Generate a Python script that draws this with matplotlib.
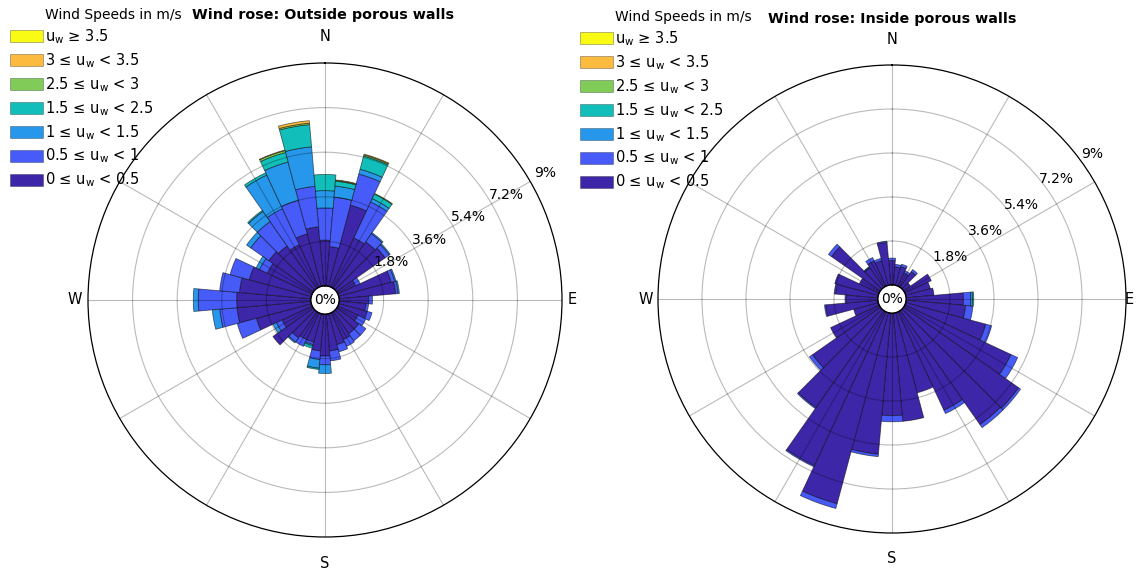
import numpy as np
import matplotlib.pyplot as plt
from matplotlib.patches import Patch

# direction sectors (compass degrees, 10 deg wide)
dirs = np.arange(0, 360, 10)

# speed bins, lowest first
bin_labels = ["0 \u2264 u$_\\mathregular{w}$ < 0.5",
              "0.5 \u2264 u$_\\mathregular{w}$ < 1",
              "1 \u2264 u$_\\mathregular{w}$ < 1.5",
              "1.5 \u2264 u$_\\mathregular{w}$ < 2.5",
              "2.5 \u2264 u$_\\mathregular{w}$ < 3",
              "3 \u2264 u$_\\mathregular{w}$ < 3.5",
              "u$_\\mathregular{w}$ \u2265 3.5"]
# parula(7)
bin_colors = [(0.2422, 0.1504, 0.6603), (0.2780, 0.3556, 0.9777),
              (0.1540, 0.5902, 0.9218), (0.0704, 0.7457, 0.7258),
              (0.5044, 0.7993, 0.3480), (0.9871, 0.7348, 0.2438),
              (0.9769, 0.9839, 0.0805)]

# outside porous walls, frequency in % per sector and bin
out_b0 = [1.85, 1.6, 3.4, 2.2, 2.3, 2.4, 0.8, 2.2, 2.3, 1.2, 1.1, 1.2,
          0.9, 1.1, 1.1, 1.2, 1.3, 1.5, 1.7, 1.5, 1.2, 1.2, 1.3, 2.0,
          1.35, 2.3, 3.0, 3.0, 2.9, 2.6, 2.0, 2.2, 2.1, 1.9, 2.2, 2.4]
out_b1 = [1.3, 2.0, 1.3, 1.6, 0.4, 0.2, 0.2, 0.15, 0.1, 0.15, 0.1, 0.2,
          0.35, 0.35, 0.35, 0.3, 0.3, 0.4, 0.35, 0.35, 0.1, 0.3, 0.2, 0.0,
          0.25, 0.8, 0.7, 1.55, 0.8, 0.8, 0.35, 0.9, 1.2, 1.6, 1.4, 1.64]
out_b2 = [0.7, 0.45, 0.2, 0.15, 0.05, 0.05, 0.0, 0.05, 0.05, 0.0, 0.0, 0.0,
          0.0, 0.0, 0.0, 0.0, 0.0, 0.0, 0.35, 0.35, 0.05, 0.0, 0.05, 0.0,
          0.15, 0.0, 0.3, 0.2, 0.0, 0.0, 0.15, 0.2, 0.5, 1.5, 1.6, 1.6]
out_b3 = [0.65, 0.2, 0.55, 0.2, 0.0, 0.0, 0.0, 0.0, 0.0, 0.0, 0.0, 0.0,
          0.0, 0.0, 0.0, 0.0, 0.0, 0.0, 0.0, 0.05, 0.1, 0.0, 0.0, 0.0,
          0.0, 0.0, 0.0, 0.0, 0.0, 0.0, 0.0, 0.0, 0.05, 0.1, 0.4, 0.9]
out_b4 = [0.0, 0.03, 0.05, 0.03, 0.0, 0.0, 0.0, 0.0, 0.0, 0.0, 0.0, 0.0,
          0.0, 0.0, 0.0, 0.0, 0.0, 0.0, 0.0, 0.0, 0.0, 0.0, 0.0, 0.0,
          0.0, 0.0, 0.0, 0.0, 0.0, 0.0, 0.0, 0.0, 0.0, 0.0, 0.08, 0.06]
out_b5 = [0.0, 0.02, 0.03, 0.0, 0.0, 0.0, 0.0, 0.0, 0.0, 0.0, 0.0, 0.0,
          0.0, 0.0, 0.0, 0.0, 0.0, 0.0, 0.0, 0.0, 0.0, 0.0, 0.0, 0.0,
          0.0, 0.0, 0.0, 0.0, 0.0, 0.0, 0.0, 0.0, 0.0, 0.0, 0.02, 0.1]
out_b6 = [0.0] * 36

# inside porous walls
in_b0 = [1.0, 0.75, 0.8, 0.6, 0.8, 0.35, 1.2, 1.05, 1.15, 2.35, 2.45, 3.4,
         4.8, 5.75, 5.7, 4.45, 3.4, 4.45, 4.2, 5.8, 8.1, 6.95, 4.85, 3.4,
         2.2, 1.05, 2.15, 1.3, 1.75, 1.85, 0.9, 2.45, 1.0, 1.15, 1.05, 1.75]
in_b1 = [0.1, 0.1, 0.1, 0.1, 0.1, 0.0, 0.0, 0.0, 0.0, 0.3, 0.3, 0.25,
         0.3, 0.1, 0.15, 0.15, 0.0, 0.0, 0.25, 0.1, 0.2, 0.05, 0.05, 0.15,
         0.0, 0.0, 0.05, 0.05, 0.05, 0.0, 0.0, 0.15, 0.02, 0.15, 0.1, 0.05]
in_b2 = [0.0] * 9 + [0.07] + [0.0] * 22 + [0.03] + [0.0] * 3
in_b3 = [0.0] * 9 + [0.05] + [0.0] * 26
in_b4 = [0.0] * 36
in_b5 = [0.0] * 36
in_b6 = [0.0] * 36

ring_ticks = [1.8, 3.6, 5.4, 7.2, 9]
compass = ["N", "E", "S", "W"]


def rose(ax, bins, label_dir, label_off, hole, e_x):
    ax.set_theta_zero_location("N")
    ax.set_theta_direction(-1)
    th = np.deg2rad(dirs)
    bottom = np.zeros(len(dirs))
    for vals, c in zip(bins, bin_colors):
        vals = np.array(vals)
        m = vals > 0
        ax.bar(th[m], vals[m], width=np.deg2rad(10), bottom=bottom[m],
               color=c, edgecolor=(0, 0, 0, 0.55), linewidth=0.6, zorder=2)
        bottom = bottom + vals
    ax.set_ylim(0, 9)
    ax.set_rorigin(-hole)
    ax.set_yticks(ring_ticks[:-1])
    ax.set_yticklabels([])
    ax.set_xticks(np.deg2rad(np.arange(0, 360, 30)))
    ax.set_xticklabels([])
    ax.set_axisbelow(False)
    ax.grid(True, color="k", alpha=0.27, linewidth=0.8)
    ax.spines["polar"].set_linewidth(0.9)
    tt = np.linspace(0, 2 * np.pi, 200)
    ax.plot(tt, np.zeros_like(tt), color="k", lw=1.2, zorder=5)
    ax.text(0.5, 0.5, "0%", transform=ax.transAxes, ha="center",
            va="center", fontsize=10, zorder=6)
    for v in ring_ticks:
        ax.text(np.deg2rad(label_dir), v + label_off, f"{v:g}%",
                ha="center", va="center", fontsize=10, zorder=6)
    pos = [(0.5, 1.055), (e_x, 0.5), (0.5, -0.055), (-0.027, 0.5)]
    for (x, y), s in zip(pos, compass):
        ax.text(x, y, s, transform=ax.transAxes, ha="center", va="center",
                fontsize=10.5)


fig = plt.figure(figsize=(11.36, 5.72), dpi=100)
W, H = 1136, 572

# left rose: centre (325, 300), outer radius 237 px
ax1 = fig.add_axes([(325 - 237) / W, (H - 300 - 237) / H, 474 / W, 474 / H],
                   projection="polar")
rose(ax1, [out_b0, out_b1, out_b2, out_b3, out_b4, out_b5, out_b6],
     60, 0.7, 9 * 14 / 223, 1.022)

# right rose: centre (892, 299), outer radius 234 px
ax2 = fig.add_axes([(892 - 234) / W, (H - 299 - 234) / H, 468 / W, 468 / H],
                   projection="polar")
rose(ax2, [in_b0, in_b1, in_b2, in_b3, in_b4, in_b5, in_b6],
     54, 0.55, 9 * 14 / 220, (1129 - 658) / 468)

fig.text(323 / W, 1 - 15 / H, "Wind rose: Outside porous walls",
         ha="center", va="center", fontsize=10.3, fontweight="bold")
fig.text(892 / W, 1 - 19 / H, "Wind rose: Inside porous walls",
         ha="center", va="center", fontsize=10.3, fontweight="bold")

handles = [Patch(facecolor=c, edgecolor=(0, 0, 0, 0.4), linewidth=0.5)
           for c in bin_colors][::-1]
for x0, y0 in [(10, 27), (580, 29)]:
    fig.text((x0 + 35) / W, 1 - (y0 - 12) / H, "Wind Speeds in m/s",
             ha="left", va="center", fontsize=10)
    fig.legend(handles, bin_labels[::-1], loc="upper left",
               bbox_to_anchor=(x0 / W, 1 - y0 / H), frameon=False,
               fontsize=10.5, handlelength=2.25, handleheight=0.9,
               handletextpad=0.15, labelspacing=0.36, borderpad=0,
               borderaxespad=0)

fig.savefig("out.png", dpi=100, facecolor="white")
